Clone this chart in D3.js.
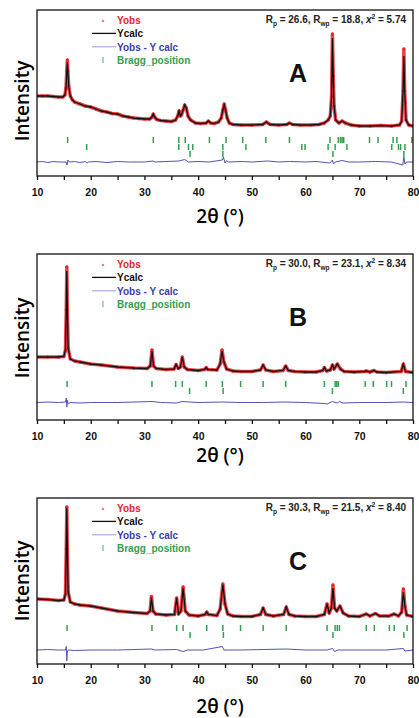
<!DOCTYPE html>
<html>
<head>
<meta charset="utf-8">
<script src="https://cdn.jsdelivr.net/npm/d3@7"></script>
<style>
  body { margin: 0; background: #fff; }
  svg { display: block; }
</style>
</head>
<body>
<svg></svg>
<script>
// panel names and refinement statistics (Rp, Rwp, chi2)
const panelNames = ["A", "B", "C"];
const statsRp = ["26.6", "30.0", "30.3"];
const statsRwp = ["18.8", "23.1", "21.5"];
const statsChi = ["5.74", "8.34", "8.40"];
const xTicks = [10, 15, 20, 25, 30, 35, 40, 45, 50, 55, 60, 65, 70, 75, 80];
const legendLabels = ["Yobs", "Ycalc", "Yobs - Y calc", "Bragg_position"];

// profiles: [2theta, Yobs, Ycalc] (Ycalc omitted when equal to Yobs)
const profileA = [[10,80],[11,80],[12,80],[13,79.5],[14,79],[14.8,79],[15.2,81],[15.4,88],[15.55,105],[15.65,116,114],[15.75,105],[15.9,90],[16.2,80],[16.6,76],[17,74],[18,72],[19,70],[20,69],[21,67],[22,65],[23,64],[24,62.5],[25,62],[26,60],[27,59],[28,58],[29,57.5],[30,57],[31,57],[31.4,59],[31.65,62],[31.9,59],[32.3,56.5],[33,55.5],[34,55],[35,54.5],[35.8,56],[36.2,60],[36.45,65],[36.7,60],[36.9,61],[37.2,66],[37.5,71],[37.8,68],[38.1,60],[38.6,56],[39.5,53],[40.5,52.5],[41.5,53],[41.9,55],[42.3,53],[43,52.5],[43.8,54],[44.3,58],[44.6,66],[44.85,72,71],[45.1,66],[45.4,58],[45.8,53],[46.5,51.5],[48,51],[50,51],[52,51.5],[52.7,54],[53.4,51.5],[55,51],[56.5,51.5],[57,53],[57.6,51.5],[59,51],[61,51],[62.5,51.5],[63.5,53],[64.2,56],[64.6,60],[64.85,80],[65,142,138],[65.15,100],[65.3,70],[65.6,56],[66.2,53],[66.8,55],[67.4,53],[68.5,51],[70,50],[72,50],[74,50.5],[76,50],[77.5,51],[77.9,55],[78.15,85],[78.3,127,120],[78.45,85],[78.7,56],[79.2,51],[80,50]];
const profileB = [[10,63],[12,63],[14,63],[15,63.5],[15.3,70],[15.45,110],[15.55,153,149],[15.65,110],[15.8,72],[16.2,61],[17,59],[18,58],[20,56],[22,55],[25,53],[28,52],[30.5,51.5],[31.1,54],[31.4,70,69],[31.7,54],[32.2,51.5],[34,50.5],[35.5,51],[35.9,55.5],[36.3,51.5],[36.7,53],[37.05,63],[37.4,53],[38,50.5],[40,49.5],[41.2,50.5],[41.5,52.5],[41.8,50.5],[43.5,50],[44.1,56],[44.45,70,69],[44.8,58],[45.3,51],[46.5,49],[48,48.5],[50,48.5],[51.6,50],[52.1,55],[52.6,50],[54,48.5],[55.8,49.5],[56.3,54],[56.8,49.5],[58,48.5],[60,48],[62,48],[63.2,49.5],[63.5,52.5],[63.9,49],[64.6,50],[65,55],[65.3,51],[65.9,56],[66.5,51],[67.2,48.5],[69,48],[71,48.5],[71.3,49],[72,48],[72.7,49.5],[73.3,48],[75,47.5],[77.8,48.5],[78.2,56],[78.6,48.5],[80,47.5]];
const profileC = [[10,65],[12,64.5],[14,63.5],[15,64],[15.3,70],[15.45,115],[15.55,157,156],[15.65,115],[15.8,72],[16.2,62],[17,60],[18,59],[20,58],[22,56],[25,53],[28,51.5],[30.5,50.5],[31.05,53],[31.3,67.5,66.5],[31.6,53],[32.1,50],[34,49],[35.6,49.5],[36,66],[36.35,50],[36.8,53],[37.2,77,76],[37.6,53],[38.3,49],[40,48],[41.3,49.5],[41.6,52],[41.9,49.5],[43.5,48.5],[44.1,55],[44.6,80,79.5],[45,60],[45.5,50],[46.5,48],[48,47.5],[50,47.5],[51.6,49.5],[52.1,56],[52.6,49.5],[54,48],[55.9,49.5],[56.4,57],[56.9,49.5],[58,48],[60,47.5],[62,47.5],[63.5,49.5],[64,60],[64.4,51],[64.8,56],[65.1,79,76],[65.4,56],[65.8,53],[66.4,58],[67,51],[68,48],[70,47.5],[71.3,50],[72,48],[73,50.5],[73.8,48],[75.5,48],[76.5,50],[77.3,48],[77.9,52],[78.2,75,72],[78.5,58],[78.8,49],[80,47.5]];

// difference curves: [2theta, Yobs - Ycalc (offset)]
const diffA = [[10,14],[11,14.5],[12,13.5],[13,14.5],[14,14],[15.4,14],[15.6,11],[15.75,16],[16,14],[17,14.5],[18,13.5],[19,14.5],[19.3,13],[19.6,14],[21,14.5],[23,13.5],[25,14.5],[27,14],[30,14],[31.6,15],[32,14],[34,14.5],[36.4,15],[37.5,16.5],[38.2,14],[40,14.5],[42,14],[44.5,16],[44.7,19],[45,13],[45.3,15.5],[45.6,14],[48,14.5],[50,14],[53,15],[55,14],[57,14.5],[60,14],[62,14.5],[64.5,13],[65,16],[65.2,12],[65.5,14],[66.8,15.5],[68,14],[70,14],[73,14.5],[76,14],[78.1,11],[78.3,19],[78.5,12],[78.8,14],[80,14]];
const diffB = [[10,17.5],[12,18],[14,17.5],[15.3,18],[15.45,22],[15.55,13],[15.65,20],[15.8,16],[16.2,17.5],[18,17],[20,17.5],[25,17.5],[31.4,18.5],[33,17.5],[36,17],[37,18.5],[40,17.5],[44.5,18],[48,17.5],[52,17.5],[56,18],[60,17.5],[63.5,16.5],[64,16],[65,18.5],[65.9,17],[66.3,18.5],[67,17],[70,17.5],[75,17.5],[78.2,18],[80,17.5]];
const diffC = [[10,14],[12,14.5],[14,14],[15.3,14],[15.45,17.5],[15.55,3],[15.65,12],[15.8,14],[17,13.5],[20,14],[25,14],[31.3,15],[32,14],[36,14.5],[37.2,12.5],[38,14],[41,14],[44.5,17.5],[44.8,14],[48,14],[52.1,14.5],[56.4,15],[60,14],[64,14],[65,15.5],[65.4,12.5],[66,14],[71,14],[75,14],[78.2,15.5],[78.5,13],[80,14]];

// Bragg reflection positions, one list per phase row
const braggA = [
  [15.7,31.65,36.4,37.6,42.1,45.2,48.3,52.6,57.0,64.55,66.1,66.5,66.8,67.1,71.9,73.5,76.3,77.0,79.8],
  [19.25,36.4,38.2,39.0,44.6,48.9,59.3,59.9,64.2,65.5,67.7,76.05,77.3,77.7,78.5],
  [38.5,44.6,65.1,78.3]
];
const braggB = [
  [15.6,31.4,35.8,37.05,41.5,44.5,47.9,52.1,56.3,63.5,65.5,65.8,66.1,71.1,72.6,75.1,76.0,78.7],
  [38.4,44.65,65.0,78.2]
];
const braggC = [
  [15.6,31.4,36.0,37.2,41.6,44.6,47.9,52.1,56.4,64.0,65.5,65.9,66.3,71.3,72.8,75.6,76.5,78.9],
  [38.5,44.7,65.1,78.3]
];

const panels = [
  {profile: profileA, diff: diffA, bragg: braggA},
  {profile: profileB, diff: diffB, bragg: braggB},
  {profile: profileC, diff: diffC, bragg: braggC}
];

// layout
const width = 419, height = 718;
const left = 37, right = 413, ph = 166;
const tops = [10, 254, 498];
const titleBase = [223, 462, 713];
const intensityMid = [91, 84, 83];

const red = "#e5252b", blue = "#5252b8", green = "#34a04e";

const svg = d3.select("svg").attr("width", width).attr("height", height)
  .style("font-family", "'Liberation Sans', Arial, sans-serif");

const x = d3.scaleLinear().domain([10, 80]).range([left, right]);
const y = d3.scaleLinear().domain([0, 166]).range([ph, 0]);

panels.forEach((p, i) => {
  const g = svg.append("g").attr("transform", `translate(0,${tops[i]})`);

  g.append("clipPath").attr("id", "clip" + i)
    .append("rect").attr("x", left).attr("y", 0).attr("width", right - left).attr("height", ph);
  const plot = g.append("g").attr("clip-path", `url(#clip${i})`);

  // bragg ticks
  p.bragg.forEach((row, k) => {
    plot.append("g").selectAll("line")
      .data(row)
      .join("line")
      .attr("x1", d => x(d)).attr("x2", d => x(d))
      .attr("y1", y(39 - 7 * k)).attr("y2", y(33 - 7 * k))
      .attr("stroke", green).attr("stroke-width", 1.5);
  });

  // difference curve
  plot.append("path")
    .datum(p.diff)
    .attr("fill", "none").attr("stroke", blue).attr("stroke-width", 1)
    .attr("d", d3.line().x(d => x(d[0])).y(d => y(d[1])));

  // observed (red band + dots)
  plot.append("path")
    .datum(p.profile)
    .attr("fill", "none").attr("stroke", red).attr("stroke-width", 3.5)
    .attr("stroke-opacity", 0.85).attr("stroke-linejoin", "round")
    .attr("d", d3.line().x(d => x(d[0])).y(d => y(d[1])));
  plot.append("g").selectAll("circle")
    .data(p.profile)
    .join("circle")
    .attr("cx", d => x(d[0])).attr("cy", d => y(d[1]))
    .attr("r", 1.5).attr("fill", red);

  // calculated
  plot.append("path")
    .datum(p.profile)
    .attr("fill", "none").attr("stroke", "#111").attr("stroke-width", 1.3)
    .attr("d", d3.line().x(d => x(d[0])).y(d => y(d.length > 2 ? d[2] : d[1])));

  // frame
  g.append("rect")
    .attr("x", left).attr("y", 0).attr("width", right - left).attr("height", ph)
    .attr("fill", "none").attr("stroke", "#111").attr("stroke-width", 1.3);

  // x axis
  const ax = g.append("g")
    .attr("transform", `translate(0,${ph})`)
    .call(d3.axisBottom(x).tickValues(xTicks).tickSize(4).tickSizeOuter(0)
      .tickFormat(d => d % 10 === 0 ? d : ""));
  ax.select(".domain").remove();
  ax.selectAll("line").attr("stroke", "#111").attr("stroke-width", 1.3);
  ax.selectAll("text")
    .attr("y", 20).attr("dy", 0)
    .attr("fill", "#111")
    .style("font-size", "10.5px").style("font-weight", "bold")
    .style("font-family", "'Liberation Sans', Arial, sans-serif");

  // axis titles
  svg.append("text")
    .attr("x", 220).attr("y", titleBase[i])
    .attr("text-anchor", "middle")
    .style("font-family", "'Open Sans', sans-serif")
    .style("font-size", "19px").style("font-weight", 600)
    .text("2\u03B8 (\u00B0)");
  svg.append("text")
    .attr("transform", `translate(29,${tops[i] + intensityMid[i]}) rotate(-90)`)
    .attr("text-anchor", "middle")
    .style("font-family", "'Open Sans', sans-serif")
    .style("font-size", "19px").style("font-weight", 600)
    .text("Intensity");

  // legend
  const lg = g.append("g").style("font-size", "10px").style("font-weight", "bold");
  const lc = [red, "#111", "#3c3cae", green];
  legendLabels.forEach((t, k) => {
    const yy = 10 + k * 13.4;
    lg.append("text").attr("x", 117).attr("y", yy + 4).attr("fill", lc[k]).text(t);
  });
  lg.append("circle").attr("cx", 103).attr("cy", 11).attr("r", 1.3).attr("fill", red).attr("opacity", 0.6);
  lg.append("line").attr("x1", 92).attr("x2", 116).attr("y1", 23.4).attr("y2", 23.4)
    .attr("stroke", "#111").attr("stroke-width", 1.3);
  lg.append("line").attr("x1", 92).attr("x2", 116).attr("y1", 36.8).attr("y2", 36.8)
    .attr("stroke", "#9999dd").attr("stroke-width", 1);
  lg.append("line").attr("x1", 103).attr("x2", 103).attr("y1", 47).attr("y2", 53)
    .attr("stroke", green).attr("stroke-width", 1.2).attr("opacity", 0.7);

  // stats
  const st = g.append("text").attr("x", 406).attr("y", 13)
    .attr("text-anchor", "end").attr("fill", "#222")
    .style("font-size", "10px").style("font-weight", "bold");
  st.append("tspan").text("R");
  st.append("tspan").attr("dy", 2.5).style("font-size", "6.5px").text("p");
  st.append("tspan").attr("dy", -2.5).text(` = ${statsRp[i]}, R`);
  st.append("tspan").attr("dy", 2.5).style("font-size", "6.5px").text("wp");
  st.append("tspan").attr("dy", -2.5).text(` = ${statsRwp[i]}, `);
  st.append("tspan").style("font-style", "italic").text("x");
  st.append("tspan").attr("dy", -4).style("font-size", "6.5px").text("2");
  st.append("tspan").attr("dy", 4).text(` = ${statsChi[i]}`);

  // panel letter
  g.append("text").attr("x", 298).attr("y", 72)
    .attr("text-anchor", "middle").attr("fill", "#111")
    .style("font-size", "25px").style("font-weight", "bold")
    .text(panelNames[i]);
});
</script>
</body>
</html>
